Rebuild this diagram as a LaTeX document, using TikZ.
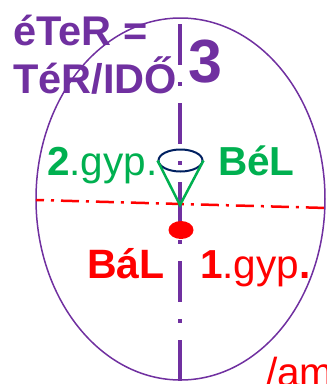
\documentclass[tikz,border=0pt]{standalone}
\usepackage{fontspec}
\setmainfont{Liberation Sans}
\usetikzlibrary{positioning,shapes.geometric}
\definecolor{lila}{HTML}{7030A0}
\definecolor{zold}{HTML}{00B050}
\definecolor{piros}{HTML}{FF0000}
\definecolor{sotetkek}{HTML}{002060}

\begin{document}
\begin{tikzpicture}[x=1pt,y=-1pt,lbl/.style={inner sep=0pt,anchor=base west,font=\fontsize{40.5}{48}\selectfont},cim/.style={lbl,text=lila,font=\fontsize{41.5}{48}\selectfont\bfseries},tengely/.style={draw=lila,line width=4.5pt,dash pattern=on 41pt off 17pt on 4pt off 17pt},vizszint/.style={draw=piros,line width=2.5pt,dash pattern=on 18pt off 7pt on 3pt off 7pt,dash phase=10pt},kup/.style={draw=sotetkek,line width=2pt,ellipse,inner sep=0pt,minimum width=44pt,minimum height=22pt},palast/.style={draw=zold,line width=2.5pt}]
\useasboundingbox (0,0) rectangle (327,384);
\draw[lila,line width=1.5pt] (180.5,199) ellipse [x radius=144.5pt,y radius=181pt];
\coordinate (vizL) at (36,200);
\coordinate (vizR) at (327,208);
\draw[vizszint] (vizL)--(vizR);
\coordinate (tengelyfent) at (180,24);
\coordinate (tengelylent) at (180,390);
\draw[tengely] (tengelyfent)--(tengelylent);
\node[kup] (kupteteje) at (180.5,160.5) {};
\coordinate (csucs) at (180,205);
\draw[palast] (kupteteje.west)--(csucs)--(kupteteje.east);
\node[fill=piros,ellipse,inner sep=0pt,minimum width=25pt,minimum height=18pt] (pont) at (181,230) {};
\node[cim] (eter) at (13,45) {éTeR =};
\node[cim] (terido) at (13,93) {TéR/IDŐ};
\node[lbl,text=lila,font=\fontsize{61}{72}\selectfont\bfseries] (harom) at (188,82) {3};
\node[lbl,text=zold] (gyp2) at (47,175) {\textbf{2}.gyp.};
\node[lbl,text=zold,font=\fontsize{40.5}{48}\selectfont\bfseries] (bel) at (218,175) {BéL};
\node[lbl,text=piros,font=\fontsize{41}{48}\selectfont\bfseries] (bal) at (87,278) {BáL};
\node[lbl,text=piros] (gyp1) at (200,278) {\textbf{1}.gyp\textbf{.}};
\node[lbl,text=piros] (am) at (266,386) {/am};
\end{tikzpicture}
\end{document}
